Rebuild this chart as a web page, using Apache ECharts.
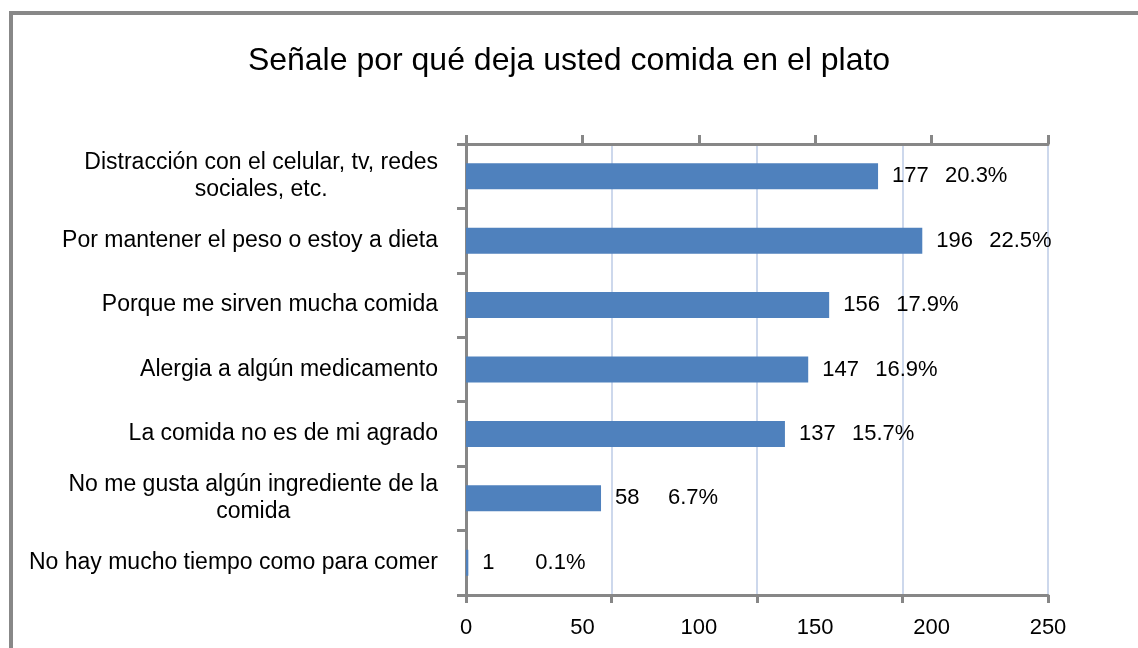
<!DOCTYPE html>
<html>
<head>
<meta charset="utf-8">
<title>Señale por qué deja usted comida en el plato</title>
<script src="https://cdn.jsdelivr.net/npm/echarts@6/dist/echarts.min.js"></script>
<style>
  html, body { margin: 0; padding: 0; background: #fff; }
  #chart { width: 1138px; height: 648px; }
</style>
</head>
<body>
<div id="chart"></div>
<script>
// categories, top to bottom
const categories = [
  'Distracción con el celular, tv, redes\nsociales, etc.',
  'Por mantener el peso o estoy a dieta',
  'Porque me sirven mucha comida',
  'Alergia a algún medicamento',
  'La comida no es de mi agrado',
  'No me gusta algún ingrediente de la\ncomida',
  'No hay mucho tiempo como para comer'
];
const counts = [177, 196, 156, 147, 137, 58, 1];
const percents = [20.3, 22.5, 17.9, 16.9, 15.7, 6.7, 0.1];

const chart = echarts.init(document.getElementById('chart'));

const FONT = '"Liberation Sans", Arial, sans-serif';
const axisGray = '#878787';
const gridBlue = '#bccbe6';

const option = {
  animation: false,
  backgroundColor: '#fff',
  textStyle: { fontFamily: FONT },
  title: {
    text: 'Señale por qué deja usted comida en el plato',
    left: 'center',
    top: 40,
    textStyle: { fontFamily: FONT, fontSize: 32, fontWeight: 'normal', color: '#000' }
  },
  graphic: [
    {
      type: 'polyline',
      shape: { points: [[11, 648], [11, 13], [1138, 13]] },
      style: { stroke: '#888', lineWidth: 4, fill: null }
    }
  ],
  grid: { left: 466, right: 90, top: 144, bottom: 53 },
  xAxis: [
    {
      // labels every 50
      type: 'value',
      position: 'bottom',
      min: 0,
      max: 250,
      interval: 50,
      axisLine: { show: true, lineStyle: { color: axisGray, width: 3 } },
      axisTick: { show: false },
      splitLine: { show: false },
      axisLabel: { color: '#000', fontSize: 22, fontFamily: FONT, margin: 22 }
    },
    {
      // ticks and gridlines
      type: 'value',
      position: 'bottom',
      min: 0,
      max: 250,
      interval: 62.5,
      axisLine: { show: false },
      axisTick: { show: true, inside: false, length: 8, lineStyle: { color: axisGray, width: 3 } },
      splitLine: { show: true, lineStyle: { color: gridBlue, width: 1.5 } },
      axisLabel: { show: false }
    },
    {
      // top axis
      type: 'value',
      position: 'top',
      min: 0,
      max: 250,
      interval: 50,
      axisLine: { show: true, lineStyle: { color: axisGray, width: 3 } },
      axisTick: { show: true, inside: false, length: 9, lineStyle: { color: axisGray, width: 3 } },
      splitLine: { show: false },
      axisLabel: { show: false }
    }
  ],
  yAxis: {
    type: 'category',
    inverse: true,
    data: categories,
    axisLine: { show: true, lineStyle: { color: axisGray, width: 3 } },
    axisTick: { show: true, inside: false, length: 9, lineStyle: { color: axisGray, width: 3 } },
    axisLabel: {
      color: '#000',
      margin: 28,
      formatter: function (value) {
        return value.split('\n').map(function (l) { return '{c|' + l + '}'; }).join('\n');
      },
      rich: {
        c: { align: 'center', fontSize: 23, lineHeight: 27, fontFamily: FONT, color: '#000' }
      }
    }
  },
  series: [
    {
      type: 'bar',
      xAxisIndex: 0,
      data: counts,
      barWidth: 26,
      itemStyle: { color: '#4f81bd' },
      label: {
        show: true,
        position: 'right',
        distance: 14,
        formatter: function (p) {
          return '{v|' + counts[p.dataIndex] + '}{p|' + percents[p.dataIndex].toFixed(1) + '%}';
        },
        rich: {
          v: { width: 53, fontSize: 22, fontFamily: FONT, color: '#000' },
          p: { fontSize: 22, fontFamily: FONT, color: '#000' }
        }
      }
    }
  ]
};

chart.setOption(option);
</script>
</body>
</html>
